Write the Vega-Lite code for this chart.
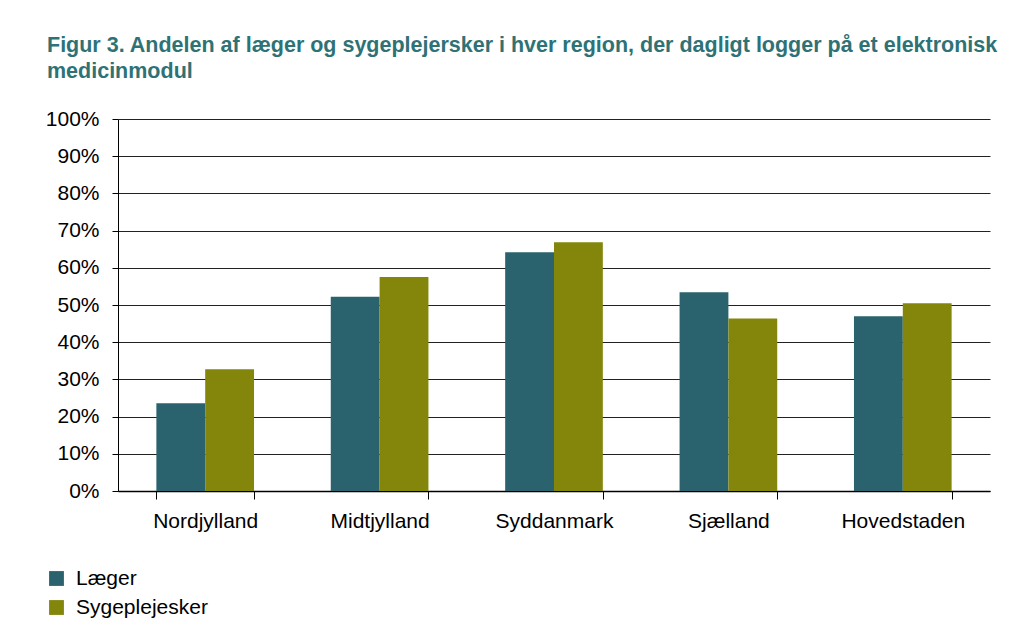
{
  "$schema": "https://vega.github.io/schema/vega-lite/v6.json",
  "autosize": {"type": "none"},
  "width": 872,
  "height": 372,
  "padding": {"left": 118, "top": 119, "right": 34, "bottom": 150},
  "background": "white",
  "title": {
    "text": ["Figur 3. Andelen af læger og sygeplejersker i hver region, der dagligt logger på et elektronisk", "medicinmodul"],
    "anchor": "start",
    "frame": "group",
    "dx": -71,
    "offset": 26,
    "font": "Liberation Sans",
    "fontSize": 21.5,
    "fontWeight": "bold",
    "color": "#2E7276",
    "lineHeight": 26
  },
  "data": {
    "values": [
      {"region": "Nordjylland", "gruppe": "Læger", "andel": 0.236},
      {"region": "Nordjylland", "gruppe": "Sygeplejesker", "andel": 0.327},
      {"region": "Midtjylland", "gruppe": "Læger", "andel": 0.522},
      {"region": "Midtjylland", "gruppe": "Sygeplejesker", "andel": 0.575},
      {"region": "Syddanmark", "gruppe": "Læger", "andel": 0.642},
      {"region": "Syddanmark", "gruppe": "Sygeplejesker", "andel": 0.669},
      {"region": "Sjælland", "gruppe": "Læger", "andel": 0.534},
      {"region": "Sjælland", "gruppe": "Sygeplejesker", "andel": 0.464},
      {"region": "Hovedstaden", "gruppe": "Læger", "andel": 0.470},
      {"region": "Hovedstaden", "gruppe": "Sygeplejesker", "andel": 0.505}
    ]
  },
  "mark": {"type": "bar"},
  "encoding": {
    "x": {
      "field": "region",
      "type": "nominal",
      "sort": ["Nordjylland", "Midtjylland", "Syddanmark", "Sjælland", "Hovedstaden"],
      "scale": {"paddingInner": 0.44, "paddingOuter": 0.22},
      "axis": {
        "title": null,
        "labelAngle": 0,
        "tickBand": "extent",
        "tickSize": 8,
        "tickColor": "#000000",
        "domainColor": "#000000",
        "domainWidth": 1.5,
        "labelFont": "Liberation Sans",
        "labelFontSize": 21,
        "labelColor": "#000000",
        "labelPadding": 11,
        "grid": false
      }
    },
    "xOffset": {
      "field": "gruppe",
      "type": "nominal",
      "sort": ["Læger", "Sygeplejesker"],
      "scale": {"paddingInner": 0, "paddingOuter": 0}
    },
    "y": {
      "field": "andel",
      "type": "quantitative",
      "scale": {"domain": [0, 1], "nice": false},
      "axis": {
        "title": null,
        "format": ".0%",
        "values": [0, 0.1, 0.2, 0.3, 0.4, 0.5, 0.6, 0.7, 0.8, 0.9, 1],
        "grid": true,
        "gridColor": "#222222",
        "gridWidth": 1,
        "tickSize": 6,
        "tickColor": "#000000",
        "domainColor": "#000000",
        "labelFont": "Liberation Sans",
        "labelFontSize": 21,
        "labelColor": "#000000",
        "labelPadding": 13
      }
    },
    "color": {
      "field": "gruppe",
      "type": "nominal",
      "sort": ["Læger", "Sygeplejesker"],
      "scale": {"domain": ["Læger", "Sygeplejesker"], "range": ["#2A636E", "#83860B"]},
      "legend": {
        "title": null,
        "orient": "none",
        "legendX": -72,
        "legendY": 449,
        "direction": "vertical",
        "symbolType": "square",
        "symbolSize": 220,
        "symbolStrokeWidth": 0,
        "labelFont": "Liberation Sans",
        "labelFontSize": 21,
        "labelColor": "#000000",
        "labelOffset": 9,
        "rowPadding": 7
      }
    }
  },
  "config": {
    "view": {"stroke": null}
  }
}
